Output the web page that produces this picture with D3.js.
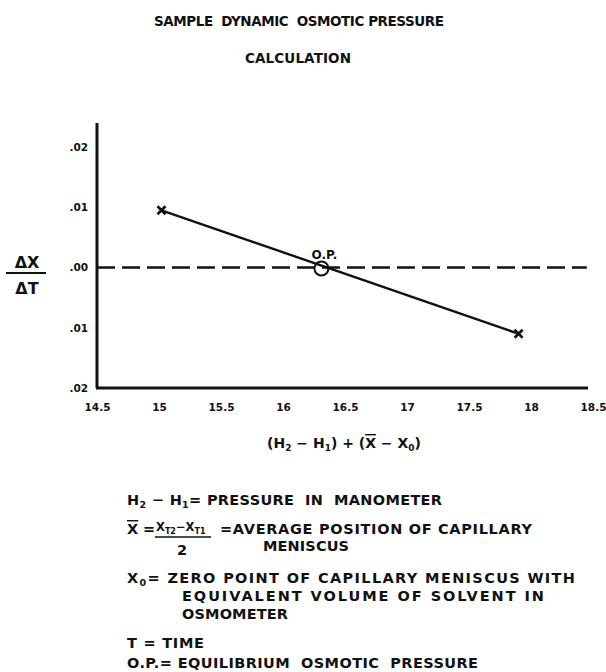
<!DOCTYPE html>
<html>
<head>
<meta charset="utf-8">
<script src="https://cdn.jsdelivr.net/npm/d3@7"></script>
<style>
  html, body { margin: 0; padding: 0; background: #fff; }
  svg { display: block; }
  text { font-family: 'DejaVu Sans', sans-serif; font-weight: bold; fill: #111; white-space: pre; }
</style>
</head>
<body>
<div id="root"></div>
<script>
// chart values
const xTicks = [14.5, 15, 15.5, 16, 16.5, 17, 17.5, 18, 18.5];
const yTicks = [0.02, 0.01, 0, -0.01, -0.02];
const yTickLabels = ['.02', '.01', '.00', '.01', '.02'];
const pointX = [15.02, 17.9];
const pointY = [0.0095, -0.011];
const opX = [16.31];
const opY = [0];

const Width = 606;
const Height = 672;

const x = d3.scaleLinear().domain([14.5, 18.5]).range([97, 593]);
const y = d3.scaleLinear().domain([-0.02, 0.02]).range([388, 147]);

const svg = d3.select('#root')
    .append('svg')
    .attr('width', Width)
    .attr('height', Height);

// title
svg.append('text')
    .attr('x', 154).attr('y', 26)
    .attr('textLength', 290)
    .style('font-size', '13.5px')
    .text('SAMPLE  DYNAMIC  OSMOTIC PRESSURE');
svg.append('text')
    .attr('x', 245).attr('y', 63)
    .attr('textLength', 106)
    .style('font-size', '13.5px')
    .text('CALCULATION');

// axis lines
const axes = svg.append('g')
    .attr('stroke', '#111')
    .attr('stroke-width', 3)
    .attr('fill', 'none');
axes.append('line')
    .attr('x1', x(14.5)).attr('x2', x(14.5))
    .attr('y1', y(0.024)).attr('y2', y(-0.02));
axes.append('line')
    .attr('x1', x(14.5) - 1).attr('x2', x(18.46))
    .attr('y1', y(-0.02)).attr('y2', y(-0.02));

// tick labels through d3 axes, no tick marks
const yAxis = svg.append('g')
    .attr('transform', 'translate(91,0)')
    .call(d3.axisLeft(y).tickValues(yTicks).tickSize(0)
        .tickFormat((d, i) => yTickLabels[i]));
const xAxis = svg.append('g')
    .attr('transform', `translate(0,${y(-0.02) + 13})`)
    .call(d3.axisBottom(x).tickValues(xTicks).tickSize(0)
        .tickFormat(d3.format('')));
[yAxis, xAxis].forEach(g => {
    g.select('.domain').remove();
    g.selectAll('text')
        .attr('fill', '#111')
        .style('font-family', "'DejaVu Sans', sans-serif")
        .style('font-weight', 'bold')
        .style('font-size', '10.5px');
});

// zero dashed line
svg.append('line')
    .attr('x1', x(14.5)).attr('x2', x(18.45))
    .attr('y1', y(0)).attr('y2', y(0))
    .attr('stroke', '#111')
    .attr('stroke-width', 2.6)
    .attr('stroke-dasharray', '18,7');

// data line
const pts = pointX.map((v, i) => [v, pointY[i]]);
svg.append('path')
    .datum(pts)
    .attr('fill', 'none')
    .attr('stroke', '#111')
    .attr('stroke-width', 2.4)
    .attr('d', d3.line().x(d => x(d[0])).y(d => y(d[1])));

// x markers
svg.append('g')
    .selectAll('path')
    .data(pts)
    .join('path')
    .attr('transform', d => `translate(${x(d[0])},${y(d[1])})`)
    .attr('d', 'M-4,-4L4,4M-4,4L4,-4')
    .attr('stroke', '#111')
    .attr('stroke-width', 2.6)
    .attr('fill', 'none');

// equilibrium point
const op = opX.map((v, i) => [v, opY[i]]);
svg.append('g')
    .selectAll('circle')
    .data(op)
    .join('circle')
    .attr('cx', d => x(d[0]))
    .attr('cy', d => y(d[1]) + 1)
    .attr('r', 7)
    .attr('fill', 'none')
    .attr('stroke', '#111')
    .attr('stroke-width', 2);
svg.append('g')
    .selectAll('text')
    .data(op)
    .join('text')
    .attr('x', d => x(d[0]) + 3)
    .attr('y', d => y(d[1]) - 9)
    .attr('text-anchor', 'middle')
    .style('font-size', '12px')
    .text('O.P.');

// y label as a fraction
svg.append('text')
    .attr('x', 27).attr('y', 268)
    .attr('text-anchor', 'middle')
    .style('font-size', '16px')
    .text('ΔX');
svg.append('line')
    .attr('x1', 6).attr('x2', 46)
    .attr('y1', 273).attr('y2', 273)
    .attr('stroke', '#111')
    .attr('stroke-width', 2);
svg.append('text')
    .attr('x', 27).attr('y', 294)
    .attr('text-anchor', 'middle')
    .style('font-size', '16px')
    .text('ΔT');

// x label
const xl = svg.append('text')
    .attr('x', 344).attr('y', 448)
    .attr('text-anchor', 'middle')
    .style('font-size', '14px');
xl.append('tspan').text('(H');
xl.append('tspan').attr('dy', 3).style('font-size', '9px').text('2');
xl.append('tspan').attr('dy', -3).text(' − H');
xl.append('tspan').attr('dy', 3).style('font-size', '9px').text('1');
xl.append('tspan').attr('dy', -3).text(') + (');
xl.append('tspan').style('text-decoration', 'overline').text('X');
xl.append('tspan').text(' − X');
xl.append('tspan').attr('dy', 3).style('font-size', '9px').text('0');
xl.append('tspan').attr('dy', -3).text(')');

// definitions below the chart
const notes = svg.append('g').style('font-size', '14.5px');

const n1 = notes.append('text').attr('x', 127).attr('y', 505).attr('textLength', 315);
n1.append('tspan').text('H');
n1.append('tspan').attr('dy', 3).style('font-size', '9.5px').text('2');
n1.append('tspan').attr('dy', -3).text(' − H');
n1.append('tspan').attr('dy', 3).style('font-size', '9.5px').text('1');
n1.append('tspan').attr('dy', -3).text('= PRESSURE  IN  MANOMETER');

notes.append('text').attr('x', 127).attr('y', 534)
    .style('text-decoration', 'overline').text('X');
notes.append('text').attr('x', 143).attr('y', 534).text('=');
const num = notes.append('text').attr('x', 156).attr('y', 531).style('font-size', '11.5px');
num.append('tspan').text('X');
num.append('tspan').attr('dy', 3).style('font-size', '8px').text('T2');
num.append('tspan').attr('dy', -3).text('−X');
num.append('tspan').attr('dy', 3).style('font-size', '8px').text('T1');
notes.append('line')
    .attr('x1', 155).attr('x2', 211)
    .attr('y1', 537).attr('y2', 537)
    .attr('stroke', '#111').attr('stroke-width', 1.5);
notes.append('text').attr('x', 182).attr('y', 555).attr('text-anchor', 'middle').text('2');
notes.append('text').attr('x', 220).attr('y', 534).attr('textLength', 312)
    .text('=AVERAGE POSITION OF CAPILLARY');
notes.append('text').attr('x', 263).attr('y', 551).attr('textLength', 86).text('MENISCUS');

const n3 = notes.append('text').attr('x', 127).attr('y', 583).attr('textLength', 448);
n3.append('tspan').text('X');
n3.append('tspan').attr('dy', 3).style('font-size', '9.5px').text('0');
n3.append('tspan').attr('dy', -3).text('= ZERO POINT OF CAPILLARY MENISCUS WITH');
notes.append('text').attr('x', 182).attr('y', 601).attr('textLength', 362)
    .text('EQUIVALENT VOLUME OF SOLVENT IN');
notes.append('text').attr('x', 182).attr('y', 619).attr('textLength', 106).text('OSMOMETER');
notes.append('text').attr('x', 127).attr('y', 648).attr('textLength', 77).text('T = TIME');
notes.append('text').attr('x', 127).attr('y', 668).attr('textLength', 351)
    .text('O.P.= EQUILIBRIUM  OSMOTIC  PRESSURE');
</script>
</body>
</html>
